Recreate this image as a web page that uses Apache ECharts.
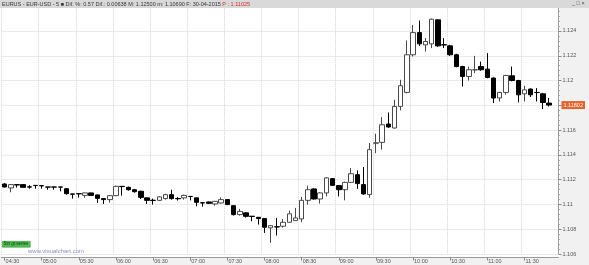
<!DOCTYPE html>
<html>
<head>
<meta charset="utf-8">
<script src="https://cdn.jsdelivr.net/npm/echarts@6/dist/echarts.min.js"></script>
<style>
html,body{margin:0;padding:0;background:#fff;}
#c{width:589px;height:265px;}
</style>
</head>
<body>
<div id="c"></div>
<script>
var times = ['04:30','04:35','04:40','04:45','04:50','04:55',
'05:00','05:05','05:10','05:15','05:20','05:25','05:30','05:35','05:40','05:45','05:50','05:55',
'06:00','06:05','06:10','06:15','06:20','06:25','06:30','06:35','06:40','06:45','06:50','06:55',
'07:00','07:05','07:10','07:15','07:20','07:25','07:30','07:35','07:40','07:45','07:50','07:55',
'08:00','08:05','08:10','08:15','08:20','08:25','08:30','08:35','08:40','08:45','08:50','08:55',
'09:00','09:05','09:10','09:15','09:20','09:25','09:30','09:35','09:40','09:45','09:50','09:55',
'10:00','10:05','10:10','10:15','10:20','10:25','10:30','10:35','10:40','10:45','10:50','10:55',
'11:00','11:05','11:10','11:15','11:20','11:25','11:30','11:35','11:40','11:45','11:50','11:55'];

var opens = [1.11165,1.11133,1.11160,1.11160,1.11142,1.11154,1.11152,1.11141,1.11141,1.11141,
1.11127,1.11085,1.11087,1.11073,1.11093,1.11077,1.11047,1.11039,1.11071,1.11146,
1.11138,1.11119,1.11106,1.11053,1.11034,1.11033,1.11047,1.11079,1.11048,1.11053,
1.11065,1.11053,1.11014,1.11020,1.11004,1.11012,1.11039,1.10990,1.10918,1.10932,
1.10905,1.10896,1.10886,1.10811,1.10820,1.10824,1.10856,1.10870,1.10883,1.11033,
1.11125,1.11044,1.11093,1.11208,1.11152,1.11119,1.11178,1.11240,1.11160,1.11079,
1.11494,1.11501,1.11649,1.11617,1.11791,1.11904,1.12208,1.12387,1.12288,1.12296,
1.12490,1.12289,1.12280,1.12208,1.12113,1.12033,1.12086,1.12113,1.12092,1.12020,
1.11859,1.11904,1.12038,1.12000,1.11893,1.11931,1.11904,1.11893,1.11818];

var closes = [1.11141,1.11160,1.11157,1.11138,1.11140,1.11152,1.11150,1.11140,1.11140,1.11140,
1.11087,1.11083,1.11086,1.11093,1.11073,1.11049,1.11039,1.11071,1.11146,1.11144,
1.11119,1.11103,1.11057,1.11033,1.11032,1.11061,1.11079,1.11047,1.11046,1.11073,
1.11064,1.11017,1.11012,1.11009,1.11025,1.11039,1.10999,1.10918,1.10944,1.10904,
1.10903,1.10886,1.10816,1.10829,1.10818,1.10856,1.10924,1.10891,1.11033,1.11119,
1.11044,1.11093,1.11214,1.11154,1.11119,1.11178,1.11248,1.11168,1.11085,1.11442,
1.11497,1.11643,1.11625,1.11791,1.11958,1.12208,1.12387,1.12296,1.12315,1.12495,
1.12280,1.12287,1.12208,1.12113,1.12033,1.12087,1.12087,1.12087,1.12025,1.11859,
1.11904,1.12041,1.12000,1.11885,1.11925,1.11885,1.11903,1.11823,1.11802];

var lows = [1.11136,1.11098,1.11136,1.11136,1.11127,1.11127,1.11127,1.11119,1.11119,1.11106,
1.11079,1.11047,1.11055,1.11053,1.11071,1.11012,1.11004,1.11015,1.11067,1.11071,
1.11111,1.11095,1.11044,1.11004,1.10999,1.11027,1.11039,1.11039,1.11031,1.11039,
1.11033,1.10985,1.10982,1.11003,1.10990,1.11007,1.10994,1.10910,1.10910,1.10894,
1.10864,1.10837,1.10770,1.10690,1.10749,1.10813,1.10853,1.10866,1.10856,1.10999,
1.11039,1.11007,1.11065,1.11148,1.11065,1.11033,1.11172,1.11125,1.11079,1.11053,
1.11415,1.11442,1.11619,1.11611,1.11759,1.11897,1.12194,1.12280,1.12234,1.12262,
1.12272,1.12262,1.12199,1.12107,1.11952,1.12000,1.12060,1.12079,1.12018,1.11818,
1.11831,1.11885,1.11994,1.11823,1.11831,1.11867,1.11831,1.11770,1.11790];

var highs = [1.11172,1.11164,1.11160,1.11164,1.11156,1.11154,1.11152,1.11141,1.11142,1.11141,
1.11131,1.11085,1.11087,1.11095,1.11095,1.11079,1.11051,1.11075,1.11152,1.11146,
1.11144,1.11123,1.11111,1.11055,1.11047,1.11067,1.11087,1.11119,1.11059,1.11079,
1.11065,1.11055,1.11014,1.11023,1.11027,1.11057,1.11043,1.10994,1.10964,1.10938,
1.10905,1.10899,1.10890,1.10833,1.10891,1.10882,1.10950,1.10972,1.11061,1.11152,
1.11131,1.11099,1.11220,1.11212,1.11156,1.11184,1.11294,1.11275,1.11302,1.11496,
1.11571,1.11705,1.11742,1.11845,1.12006,1.12323,1.12449,1.12484,1.12342,1.12500,
1.12494,1.12342,1.12288,1.12216,1.12119,1.12113,1.12199,1.12153,1.12221,1.12026,
1.11909,1.12046,1.12113,1.12006,1.11958,1.11937,1.11939,1.11901,1.11859];

var titleText = 'EURUS - EUR-USD - 5 \u25A0 Dif. %: 0.57 Dif.: 0.00638 M: 1.12500 m: 1.10690 F: 30-04-2015 ';
var titleRed = 'P : 1.11025';

var candles = opens.map(function (o, i) { return [o, closes[i], lows[i], highs[i]]; });
var lastClose = closes[closes.length - 1];

var FONT = 'Liberation Sans';
var chart = echarts.init(document.getElementById('c'), null, {renderer: 'canvas'});
chart.setOption({
  animation: false,
  backgroundColor: '#ffffff',
  grid: {left: 1.5, right: 30.5, top: 6.2, bottom: 11},
  xAxis: {
    type: 'category',
    data: times,
    boundaryGap: true,
    offset: 3.5,
    axisLine: {lineStyle: {color: '#9a9a9a', width: 1}},
    axisTick: {show: true, alignWithLabel: true, interval: 5, length: 3, lineStyle: {color: '#888'}},
    axisLabel: {interval: 5, fontSize: 5.5, fontFamily: FONT, color: '#555', align: 'left', margin: 1, padding: [0, 0, 0, 1]},
    splitLine: {show: true, interval: 5, lineStyle: {color: '#d4d4d4', type: 'dotted', width: 1}}
  },
  yAxis: {
    type: 'value',
    position: 'right',
    min: 1.106,
    max: 1.126,
    interval: 0.002,
    scale: true,
    axisLine: {show: true, lineStyle: {color: '#9a9a9a'}},
    axisTick: {show: true, length: 3, lineStyle: {color: '#888'}},
    minorTick: {show: true, splitNumber: 5, length: 1.5, lineStyle: {color: '#aaa'}},
    axisLabel: {fontSize: 5.5, fontFamily: FONT, color: '#555', margin: 4},
    splitLine: {show: true, lineStyle: {color: '#d4d4d4', type: 'dotted', width: 1}}
  },
  series: [{
    type: 'candlestick',
    data: candles,
    barWidth: 5,
    itemStyle: {
      color: '#ffffff',
      color0: '#000000',
      borderColor: '#4a4a4a',
      borderColor0: '#000000',
      borderWidth: 1
    },
    markLine: {
      silent: true,
      precision: 5,
      symbol: ['none', 'none'],
      lineStyle: {color: 'rgba(0,0,0,0)', width: 0},
      label: {
        show: true,
        position: 'end',
        distance: 3,
        formatter: function (p) { return Number(p.value).toFixed(5); },
        backgroundColor: '#e8622e',
        color: '#ffffff',
        fontSize: 5.5,
        fontFamily: FONT,
        padding: [1, 2, 1, 2]
      },
      data: [{yAxis: lastClose}]
    }
  }],
  graphic: [
    {type: 'rect', left: 560, top: 0, z: -10, shape: {width: 29, height: 265}, style: {fill: '#f1f1f1'}, silent: true},
    {type: 'rect', left: 0, top: 257, z: -10, shape: {width: 589, height: 8}, style: {fill: '#f1f1f1'}, silent: true},
    {type: 'rect', left: 0, top: 0, z: 100, shape: {width: 589, height: 8}, style: {fill: '#d9d9d9'}, silent: true},
    {type: 'text', left: 2, top: 1, z: 101, style: {
      text: '{a|' + titleText + '}{b|' + titleRed + '}',
      rich: {
        a: {fontSize: 5.5, fontFamily: FONT, fill: '#333'},
        b: {fontSize: 5.5, fontFamily: FONT, fill: '#e02828'}
      }
    }},
    {type: 'text', left: 572, top: 0.5, z: 101, style: {text: '_ \u25A1 \u00D7', fontSize: 5.5, fontFamily: FONT, fill: '#444'}},
    {type: 'rect', left: 2, top: 241, z: 50, shape: {width: 28, height: 6}, style: {fill: '#4fc04f', stroke: '#2f8f2f', lineWidth: 0.5}},
    {type: 'text', left: 3.5, top: 241.5, z: 51, style: {text: 'Sin gr.series', fontSize: 4.5, fontFamily: FONT, fill: '#153015'}},
    {type: 'text', left: 28, top: 248, z: 50, style: {text: 'www.visualchart.com', fontSize: 6, fontFamily: FONT, fill: '#8c8cc4'}}
  ]
});
</script>
</body>
</html>
